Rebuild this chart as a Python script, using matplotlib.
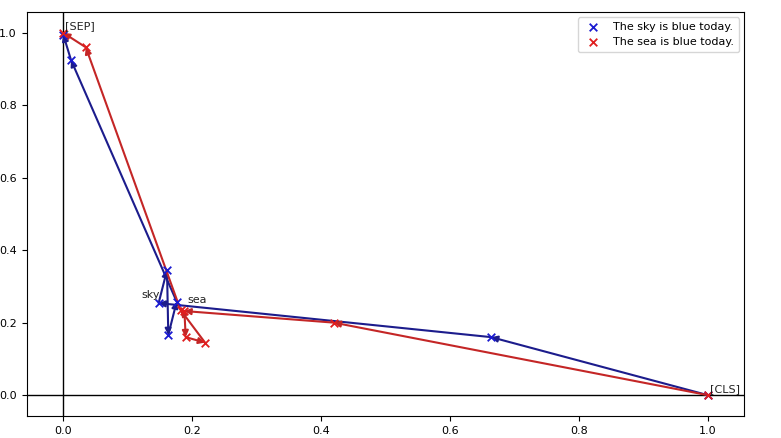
import matplotlib
matplotlib.use("Agg")
import matplotlib.pyplot as plt

# Data
sky_x = [1.0, 0.664, 0.148, 0.161, 0.163, 0.176, 0.012, 0.0]
sky_y = [0.0, 0.160, 0.254, 0.345, 0.166, 0.258, 0.925, 0.995]
sea_x = [1.0, 0.420, 0.188, 0.190, 0.220, 0.182, 0.035, 0.0]
sea_y = [0.0, 0.200, 0.232, 0.160, 0.145, 0.235, 0.960, 1.0]

labels = ["[SEP]", "[CLS]", "sky", "sea"]
label_x = [0.003, 1.003, 0.122, 0.192]
label_y = [1.005, 0.003, 0.262, 0.250]

legend_labels = ["The sky is blue today.", "The sea is blue today."]

fig = plt.figure(figsize=(7.81, 4.38), dpi=100)
ax = fig.add_axes([0.034, 0.05, 0.919, 0.923])

ax.axhline(0, color="black", lw=1.0, zorder=1)
ax.axvline(0, color="black", lw=1.0, zorder=1)

def draw_path(xs, ys, line_color, marker_color, label):
    for i in range(len(xs) - 1):
        ax.annotate("", xy=(xs[i + 1], ys[i + 1]), xytext=(xs[i], ys[i]),
                    arrowprops=dict(arrowstyle="-|>", color=line_color, lw=1.5,
                                    mutation_scale=9, shrinkA=0, shrinkB=0),
                    zorder=2)
    ax.scatter(xs, ys, marker="x", color=marker_color, s=30, linewidths=1.3,
               label=label, zorder=3)

draw_path(sky_x, sky_y, "#1c1c8c", "#1a1ad0", legend_labels[0])
draw_path(sea_x, sea_y, "#c42626", "#e01e1e", legend_labels[1])

for t, x, y in zip(labels, label_x, label_y):
    ax.text(x, y, t, fontsize=8, color="#222222", ha="left", va="bottom")

ax.set_xlim(-0.057, 1.057)
ax.set_ylim(-0.058, 1.058)
ax.set_xticks([0.0, 0.2, 0.4, 0.6, 0.8, 1.0])
ax.set_yticks([0.0, 0.2, 0.4, 0.6, 0.8, 1.0])
ax.tick_params(labelsize=8)

ax.legend(loc="upper right", fontsize=8, frameon=True)

fig.savefig("out.png", dpi=100)
